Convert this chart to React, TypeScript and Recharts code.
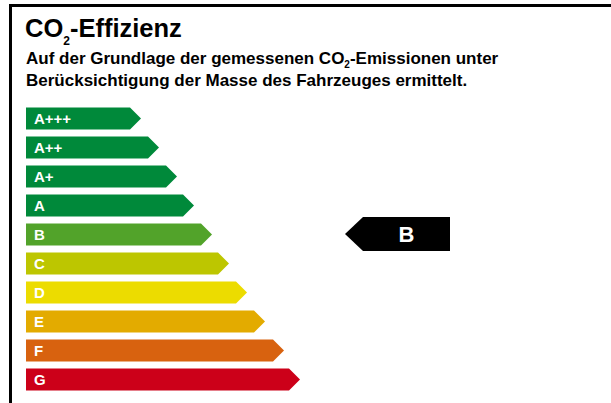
import React from 'react';
import { BarChart, Bar, XAxis, YAxis, Cell, LabelList, ReferenceDot } from 'recharts';

const classes = ['A+++', 'A++', 'A+', 'A', 'B', 'C', 'D', 'E', 'F', 'G'];
// arrow length of each class (px units along the scale)
const lengths = [115, 133, 151, 168, 186, 203, 221, 239, 258, 274];
const colors = ['#00893a', '#00893a', '#00893a', '#00893a', '#52a32a', '#bdc600', '#ecdc00', '#e3ab00', '#d8620f', '#cc0019'];
const rating = 'B';
const ratingPos = 319;

const data = classes.map((c, i) => ({ label: c, len: lengths[i] }));
const font = '"Liberation Sans", Arial, Helvetica, sans-serif';

const ArrowBar = (props: any) => {
  const { x, y, width, height, fill } = props;
  const h2 = height / 2;
  const pts = [
    [x, y],
    [x + width - h2, y],
    [x + width, y + h2],
    [x + width - h2, y + height],
    [x, y + height],
  ].map((p) => p.join(',')).join(' ');
  return <polygon points={pts} fill={fill} />;
};

const ClassLabel = (props: any) => {
  const { x, y, height, value } = props;
  return (
    <text x={x + 8} y={y + height / 2 + 5.4} fill="#fff" fontSize={15} fontWeight="bold" fontFamily={font}>
      {value}
    </text>
  );
};

const Indicator = (props: any) => {
  const { cx, cy } = props;
  const h = 34;
  const tip = 18;
  const w = 105;
  const pts = [
    [cx, cy],
    [cx + tip, cy - h / 2],
    [cx + w, cy - h / 2],
    [cx + w, cy + h / 2],
    [cx + tip, cy + h / 2],
  ].map((p) => p.join(',')).join(' ');
  return (
    <g>
      <polygon points={pts} fill="#000" />
      <text x={cx + (tip + w) / 2} y={cy + 7.8} textAnchor="middle" fill="#fff" fontSize={22} fontWeight="bold" fontFamily={font}>
        {rating}
      </text>
    </g>
  );
};

export default function App() {
  return (
    <div style={{ position: 'absolute', left: 0, top: 0, width: 611, height: 403, background: '#fff', fontFamily: font, overflow: 'hidden' }}>
      <div style={{ position: 'absolute', left: 9, top: 4, right: 0, bottom: 0, borderLeft: '3px solid #000', borderTop: '3px solid #000' }} />
      <div style={{ position: 'absolute', left: 25, top: 15.2, fontSize: 25.5, lineHeight: '26px', fontWeight: 'bold', color: '#000', whiteSpace: 'nowrap' }}>
        CO<span style={{ fontSize: 12, position: 'relative', top: 8 }}>2</span>-Effizienz
      </div>
      <div style={{ position: 'absolute', left: 26, top: 48.6, fontSize: 17, lineHeight: '20px', fontWeight: 'bold', color: '#000', whiteSpace: 'nowrap' }}>
        Auf der Grundlage der gemessenen CO<span style={{ fontSize: 10, position: 'relative', top: 4 }}>2</span>-Emissionen unter
        <br />
        Berücksichtigung der Masse des Fahrzeuges ermittelt.
      </div>
      <div style={{ position: 'absolute', left: 0, top: 0 }}>
        <BarChart
          width={611}
          height={403}
          data={data}
          layout="vertical"
          margin={{ top: 103.5, right: 0, bottom: 9.5, left: 26 }}
        >
          <XAxis type="number" domain={[0, 585]} hide />
          <YAxis type="category" dataKey="label" hide />
          <Bar dataKey="len" barSize={22} shape={<ArrowBar />} isAnimationActive={false}>
            {data.map((d, i) => (
              <Cell key={d.label} fill={colors[i]} />
            ))}
            <LabelList dataKey="label" content={<ClassLabel />} />
          </Bar>
          <ReferenceDot x={ratingPos} y={rating} r={0} shape={<Indicator />} ifOverflow="visible" />
        </BarChart>
      </div>
    </div>
  );
}
